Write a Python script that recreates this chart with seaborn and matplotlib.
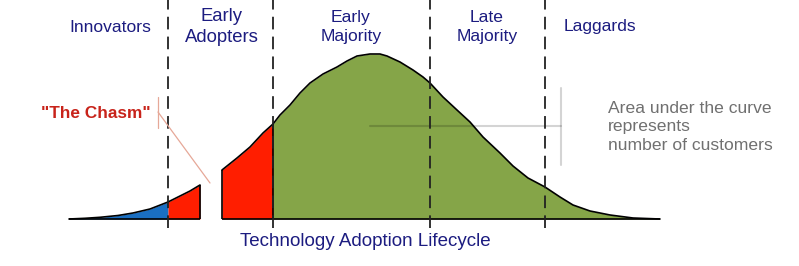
import matplotlib
matplotlib.use("Agg")
import matplotlib.pyplot as plt
import seaborn as sns
import pandas as pd

# ---- data (x = position along lifecycle, h = relative number of customers)
innov_x = [69, 85, 100, 118, 133, 150, 168]
innov_h = [0, 0.7, 1.7, 3.5, 6, 10, 17]
early_left_x = [168, 180, 190, 200]
early_left_h = [17, 23, 28, 34]
early_right_x = [222, 237, 250, 263, 273]
early_right_h = [49, 61, 72, 86, 95]
main_x = [273, 280, 290, 300, 310, 323, 337, 347, 357, 370, 380, 387, 400, 413, 423,
          430, 443, 457, 470, 483, 500, 513, 528, 545, 560, 573, 590, 610, 633, 660]
main_h = [95, 104, 114, 126, 136, 145, 152, 158, 163, 165, 165, 163, 157, 149, 142,
          136, 122, 109, 97, 82, 66, 53, 41, 32, 22, 14, 8, 4, 1, 0]

boundaries = [168, 273, 430, 545]
segment_labels = ["Innovators", "Early\nAdopters", "Early\nMajority", "Late\nMajority", "Laggards"]
label_x = [110, 222, 351, 487, 600]

BLUE = "#1a6fc2"
RED = "#ff1e00"
GREEN = "#85a548"
NAVY = "#1c1c80"

sns.set_theme(style="white")
plt.rcParams["font.family"] = ["Liberation Sans", "DejaVu Sans"]

fig = plt.figure(figsize=(7.99, 2.66), dpi=100)
ax = fig.add_axes([0, 0, 1, 1])
ax.set_xlim(0, 799)
ax.set_ylim(-47, 219)
ax.axis("off")

segments = [
    (innov_x, innov_h, BLUE),
    (early_left_x, early_left_h, RED),
    (early_right_x, early_right_h, RED),
    (main_x, main_h, GREEN),
]

frames = []
for i, (xs, hs, col) in enumerate(segments):
    ax.fill_between(xs, 0, hs, color=col, linewidth=0, zorder=1)
    frames.append(pd.DataFrame({"x": xs, "h": hs, "seg": i}))
df = pd.concat(frames, ignore_index=True)

# curve outline
sns.lineplot(data=df, x="x", y="h", units="seg", estimator=None, color="black",
             linewidth=1.2, ax=ax, zorder=3, legend=False)

# vertical edges of the chasm pieces and baseline
ax.vlines([early_left_x[-1]], 0, early_left_h[-1], color="black", lw=1.2, zorder=3)
ax.vlines([early_right_x[0]], 0, early_right_h[0], color="black", lw=1.2, zorder=3)
ax.vlines([main_x[0]], 0, main_h[0], color="black", lw=1.2, zorder=3)
ax.hlines(0, innov_x[0], early_left_x[-1], color="black", lw=1.2, zorder=3)
ax.hlines(0, early_right_x[0], main_x[-1], color="black", lw=1.2, zorder=3)

# dashed phase boundaries
ax.vlines(boundaries, -9, 219, color="#222222", lw=1.3, linestyles=(0, (7, 4)), zorder=4)

# phase labels
for lx, lab in zip(label_x, segment_labels):
    fs = 13.3 if lab.startswith("Early\nA") else 12.6
    ax.text(lx, 192, lab, ha="center", va="center", fontsize=fs, color=NAVY,
            linespacing=1.3, zorder=5)

# chasm annotation
ax.text(96, 106, "\"The Chasm\"", ha="center", va="center", fontsize=12.4,
        fontweight="bold", color="#c8231a", zorder=5)
ax.plot([158, 158], [122, 91], color="#e6a898", lw=0.9, zorder=5)
ax.plot([158, 210], [107, 36], color="#e6a898", lw=0.9, zorder=5)

# area annotation
ax.plot([370, 561], [93, 93], color="black", alpha=0.17, lw=1.5, zorder=2)
ax.plot([561, 561], [131, 54], color="black", alpha=0.17, lw=1.5, zorder=2)
ax.text(608, 92, "Area under the curve\nrepresents\nnumber of customers", ha="left",
        va="center", fontsize=12.6, color="#707070", linespacing=1.28, zorder=5)

# title at bottom
ax.text(365, -22, "Technology Adoption Lifecycle", ha="center", va="center",
        fontsize=13.5, color=NAVY, zorder=5)

fig.savefig("out.png", dpi=100)
